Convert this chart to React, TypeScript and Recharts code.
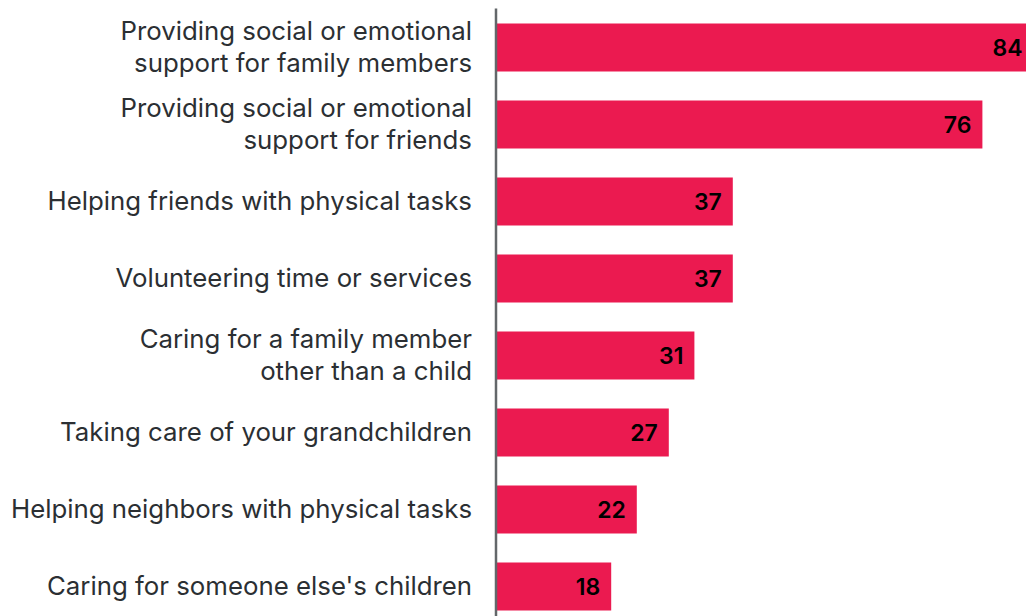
import React from "react";
import { BarChart, Bar, XAxis, YAxis, LabelList } from "recharts";

const categories = [
  "Providing social or emotional\nsupport for family members",
  "Providing social or emotional\nsupport for friends",
  "Helping friends with physical tasks",
  "Volunteering time or services",
  "Caring for a family member\nother than a child",
  "Taking care of your grandchildren",
  "Helping neighbors with physical tasks",
  "Caring for someone else's children",
];
const values = [84, 76, 37, 37, 31, 27, 22, 18];

const data = categories.map((name, i) => ({ name, value: values[i] }));

const FONT = "Inter, 'Noto Sans', sans-serif";

const CategoryTick = (props: any) => {
  const { x, y, payload } = props;
  const lines: string[] = String(payload.value).split("\n");
  const lh = 32;
  const start = -((lines.length - 1) * lh) / 2;
  return (
    <text
      x={x - 16}
      y={y}
      textAnchor="end"
      fill="#2b2f33"
      fontFamily={FONT}
      fontSize={25.8}
    >
      {lines.map((l, i) => (
        <tspan key={i} x={x - 16} y={y + start + i * lh} dy="0.36em">
          {l}
        </tspan>
      ))}
    </text>
  );
};

export default function App() {
  return (
    <div
      style={{
        position: "fixed",
        left: 0,
        top: 0,
        width: 1026,
        height: 616,
        overflow: "hidden",
        background: "#ffffff",
      }}
    >
      <BarChart
        width={1140}
        height={632}
        data={data}
        layout="vertical"
        margin={{ top: 8.5, right: 4, bottom: 7.5, left: 0 }}
        barSize={48}
      >
        <XAxis type="number" domain={[0, 100]} hide />
        <YAxis
          type="category"
          dataKey="name"
          width={496}
          axisLine={{ stroke: "#63676a", strokeWidth: 2.5 }}
          tickLine={false}
          tick={<CategoryTick />}
          interval={0}
        />
        <Bar dataKey="value" fill="#eb1a50" isAnimationActive={false}>
          <LabelList
            dataKey="value"
            position="insideRight"
            offset={11}
            fill="#000000"
            fontFamily={FONT}
            fontWeight={600}
            fontSize={23}
          />
        </Bar>
      </BarChart>
    </div>
  );
}
